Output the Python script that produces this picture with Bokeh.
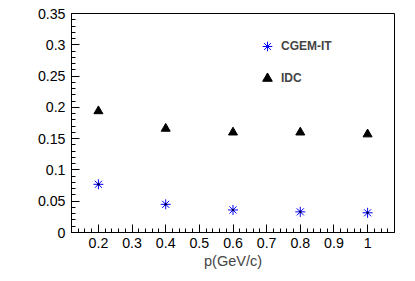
import math
from bokeh.plotting import figure
from bokeh.models import (FixedTicker, CustomJSTickFormatter, Legend, LegendItem, Label)
from bokeh.embed import file_html
from bokeh.resources import INLINE

# ---- data ----
momentum = [0.2, 0.4, 0.6, 0.8, 1.0]
cgem_sigma_z = [0.077, 0.045, 0.036, 0.033, 0.0315]
idc_sigma_z = [0.194, 0.166, 0.160, 0.160, 0.157]

x_major_ticks = [0.2, 0.3, 0.4, 0.5, 0.6, 0.7, 0.8, 0.9, 1.0]
x_minor_ticks = [round(0.12 + 0.02 * i, 2) for i in range(49)]
y_major_ticks = [0.0, 0.05, 0.1, 0.15, 0.2, 0.25, 0.3, 0.35]
y_minor_ticks = [round(0.01 * i, 2) for i in range(36)]

FONT = "Liberation Sans"

p = figure(width=415, height=281, x_range=(0.12, 1.08), y_range=(0.0, 0.35),
           output_backend="svg", toolbar_location=None,
           min_border_left=71, min_border_right=21, min_border_top=13, min_border_bottom=49)
p.grid.visible = False
p.outline_line_color = "black"
p.outline_line_width = 1
p.background_fill_color = "white"
p.border_fill_color = "white"

fmt = CustomJSTickFormatter(code="return tick.toFixed(2).replace(/\\.?0+$/, '');")

for ax in (p.xaxis[0], p.yaxis[0]):
    ax.major_tick_in = 8
    ax.major_tick_out = 0
    ax.minor_tick_in = 4
    ax.minor_tick_out = 0
    ax.axis_line_color = "black"
    ax.major_tick_line_color = "black"
    ax.minor_tick_line_color = "black"
    ax.major_label_text_font = FONT
    ax.major_label_text_font_size = "14.2px"
    ax.major_label_text_color = "black"
    ax.formatter = fmt

p.xaxis[0].ticker = FixedTicker(ticks=x_major_ticks, minor_ticks=x_minor_ticks)
p.yaxis[0].ticker = FixedTicker(ticks=y_major_ticks, minor_ticks=y_minor_ticks)
p.xaxis[0].major_label_standoff = 5
p.yaxis[0].major_label_standoff = 6

p.xaxis[0].axis_label = "p(GeV/c)"
p.xaxis[0].axis_label_text_font = FONT
p.xaxis[0].axis_label_text_font_size = "14.5px"
p.xaxis[0].axis_label_text_font_style = "normal"
p.xaxis[0].axis_label_standoff = 2

# y title sigma_z(cm), composed of three text pieces (rotated)
common = dict(x_units="screen", y_units="screen", angle=math.pi / 2,
              text_font=FONT, text_color="black", text_align="left",
              text_baseline="alphabetic")
p.add_layout(Label(x=-43, y=89, text="σ", text_font_size="14.5px", **common))
p.add_layout(Label(x=-40, y=97, text="z", text_font_size="10px", **common))
p.add_layout(Label(x=-43, y=102, text="(cm)", text_font_size="14.5px", **common))

r_cgem = p.scatter(momentum, cgem_sigma_z, marker="asterisk", size=10,
                   line_color="#0000ff", line_width=1)
p.scatter(momentum, cgem_sigma_z, marker="circle", size=2.5,
          fill_color="#000040", line_color=None)
r_idc = p.scatter(momentum, idc_sigma_z, marker="triangle", size=9,
                  fill_color="black", line_color="black")

legend = Legend(items=[LegendItem(label="CGEM-IT", renderers=[r_cgem]),
                       LegendItem(label="IDC", renderers=[r_idc])],
                location=(184, 142), border_line_color=None,
                background_fill_alpha=0, label_text_font=FONT,
                label_text_font_style="bold", label_text_font_size="12px",
                glyph_width=24, glyph_height=24, spacing=8, padding=0,
                margin=0, label_standoff=2)
p.add_layout(legend)

open("out.html", "w").write(file_html(p, INLINE))
